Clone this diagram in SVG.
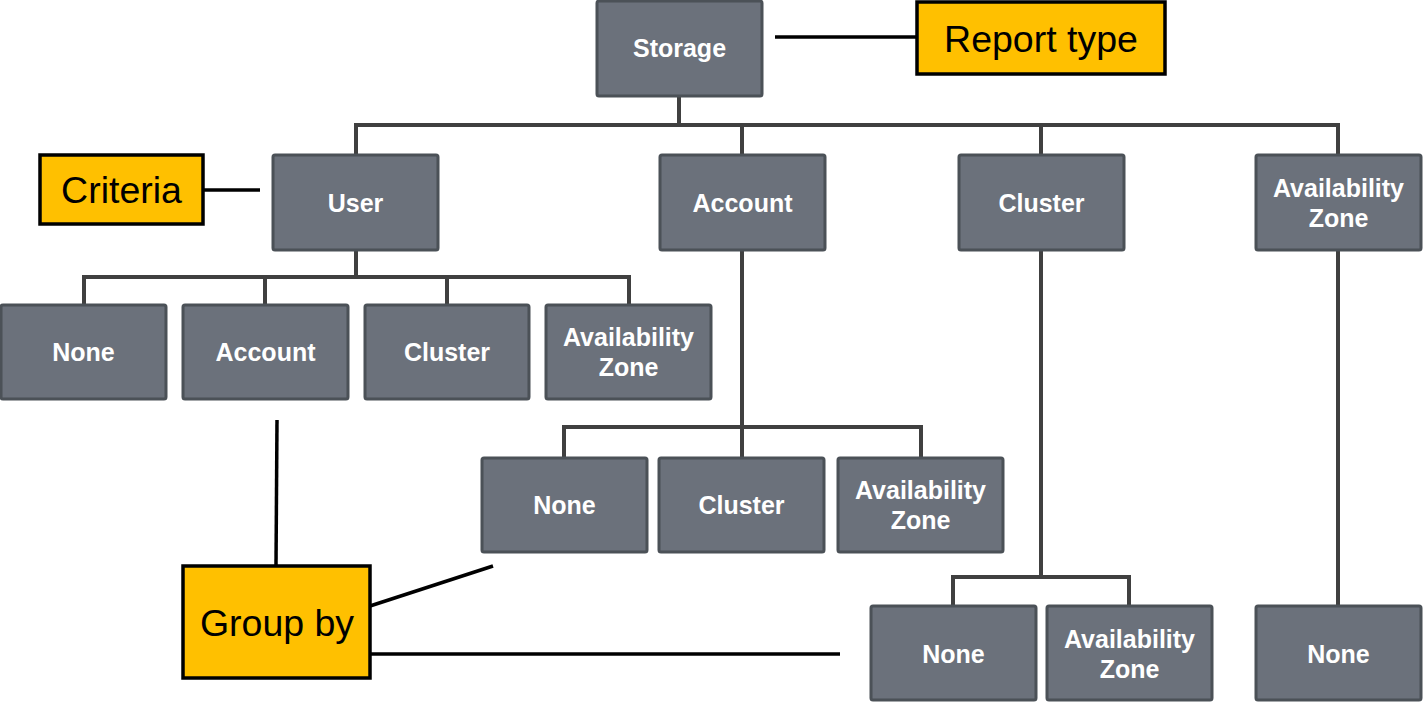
<svg xmlns="http://www.w3.org/2000/svg" width="1426" height="703" viewBox="0 0 1426 703">
<style>
.n rect{fill:#6b717b;stroke:#4b5157;stroke-width:3}
.n text{fill:#fff;font-family:"Liberation Sans",Arial,sans-serif;font-weight:bold;font-size:25px;text-anchor:middle}
.l rect{fill:#ffc000;stroke:#000;stroke-width:3.5}
.l text{fill:#000;font-family:"Liberation Sans",Arial,sans-serif;font-size:37.5px;text-anchor:middle}
.t{fill:none;stroke:#404040;stroke-width:4}
.c{fill:none;stroke:#000;stroke-width:3.5}
</style>
<rect width="1426" height="703" fill="#fff"/>
<g id="connectors">
<path class="t" d="M679 96V125M356 155V125H1338V155M742 125V155M1041 125V155"/>
<path class="t" d="M356 250V277M84 305V277H629V305M265 277V305M447 277V305"/>
<path class="t" d="M742 250V458M564 458V427H921V458"/>
<path class="t" d="M1041 250V577M953 606V577H1129V606"/>
<path class="t" d="M1338 250V606"/>
<path class="c" d="M775 37H917"/>
<path class="c" d="M203 190H260"/>
<path class="c" d="M277 420L276 566"/>
<path class="c" d="M370 606L493 566"/>
<path class="c" d="M370 654H840"/>
</g>
<g id="storage" class="n"><rect x="597" y="1" width="165" height="95" rx="2"/><text x="679.5" y="57">Storage</text></g>
<g id="report-type" class="l"><rect x="917" y="2" width="248" height="72"/><text x="1041" y="52">Report type</text></g>
<g id="criteria" class="l"><rect x="40" y="155" width="163" height="69"/><text x="121.5" y="203">Criteria</text></g>
<g id="group-by" class="l"><rect x="183" y="566" width="187" height="112"/><text x="277" y="636">Group by</text></g>
<g id="user" class="n"><rect x="273" y="155" width="165" height="95" rx="2"/><text x="355.5" y="212">User</text></g>
<g id="account" class="n"><rect x="660" y="155" width="165" height="95" rx="2"/><text x="742.5" y="212">Account</text></g>
<g id="cluster" class="n"><rect x="959" y="155" width="165" height="95" rx="2"/><text x="1041.5" y="212">Cluster</text></g>
<g id="az" class="n"><rect x="1256" y="155" width="165" height="95" rx="2"/><text x="1338.5" y="197">Availability</text><text x="1338.5" y="227">Zone</text></g>
<g id="user-none" class="n"><rect x="1" y="305" width="165" height="94" rx="2"/><text x="83.5" y="361">None</text></g>
<g id="user-account" class="n"><rect x="183" y="305" width="165" height="94" rx="2"/><text x="265.5" y="361">Account</text></g>
<g id="user-cluster" class="n"><rect x="365" y="305" width="164" height="94" rx="2"/><text x="447" y="361">Cluster</text></g>
<g id="user-az" class="n"><rect x="546" y="305" width="165" height="94" rx="2"/><text x="628.5" y="346">Availability</text><text x="628.5" y="376">Zone</text></g>
<g id="account-none" class="n"><rect x="482" y="458" width="165" height="94" rx="2"/><text x="564.5" y="514">None</text></g>
<g id="account-cluster" class="n"><rect x="659" y="458" width="165" height="94" rx="2"/><text x="741.5" y="514">Cluster</text></g>
<g id="account-az" class="n"><rect x="838" y="458" width="165" height="94" rx="2"/><text x="920.5" y="499">Availability</text><text x="920.5" y="529">Zone</text></g>
<g id="cluster-none" class="n"><rect x="871" y="606" width="165" height="94" rx="2"/><text x="953.5" y="663">None</text></g>
<g id="cluster-az" class="n"><rect x="1047" y="606" width="165" height="94" rx="2"/><text x="1129.5" y="648">Availability</text><text x="1129.5" y="678">Zone</text></g>
<g id="az-none" class="n"><rect x="1256" y="606" width="165" height="94" rx="2"/><text x="1338.5" y="663">None</text></g>
</svg>
